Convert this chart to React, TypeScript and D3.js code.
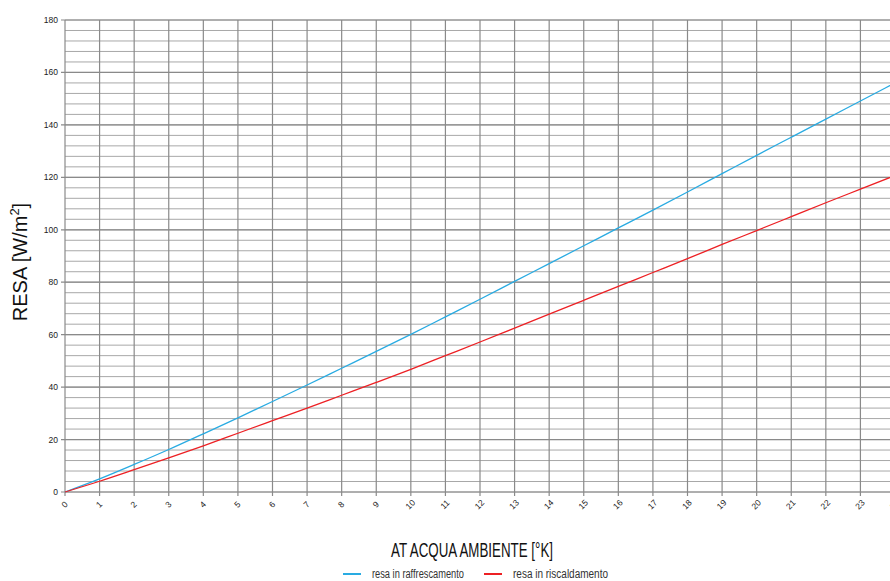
import React from "react";
import * as d3 from "d3";

const deltaT = [0,1,2,3,4,5,6,7,8,9,10,11,12,13,14,15,16,17,18,19,20,21,22,23,24];
const cooling = [0,5,10.5,16.2,22.2,28.3,34.5,40.8,47.2,53.6,60.1,66.8,73.5,80.3,87.1,93.9,100.7,107.5,114.4,121.4,128.4,135.3,142.2,149.1,156];
const heating = [0,4.1,8.5,13,17.6,22.4,27.2,32,36.9,41.8,46.8,52,57.2,62.5,67.8,73.1,78.4,83.7,89,94.4,99.7,105,110.3,115.5,120.7];
const yMajorTicks = [0,20,40,60,80,100,120,140,160,180];
const yMinorTicks = d3.range(0, 181, 4);
const seriesNames = ["resa in raffrescamento", "resa in riscaldamento"];
const seriesColors = ["#29abe2", "#ed2024"];

const W = 890, H = 581;
const sans = "'Liberation Sans', Arial, sans-serif";

export default function App() {
  const x = d3.scaleLinear().domain([0, 24]).range([65, 895]);
  const y = d3.scaleLinear().domain([0, 180]).range([492, 20]);
  const line = d3
    .line<number>()
    .x((_, i) => x(deltaT[i]))
    .y((d) => y(d))
    .curve(d3.curveMonotoneX);
  const series = [cooling, heating];
  const legendX = [343, 484];
  const legendW = [92, 95];
  return (
    <svg width={W} height={H} style={{ position: "absolute", left: 0, top: 0, background: "#fff" }}>
      <g>
        {yMinorTicks.map((t) => (
          <line key={"mn" + t} x1={x(0)} x2={W} y1={y(t)} y2={y(t)} stroke="#a8a8a8" strokeWidth={1} />
        ))}
        {yMajorTicks.map((t) => (
          <line key={"mj" + t} x1={x(0) - 4} x2={W} y1={y(t)} y2={y(t)} stroke="#8a8a8a" strokeWidth={1.2} />
        ))}
        {deltaT.map((t) => (
          <line key={"v" + t} x1={x(t)} x2={x(t)} y1={y(180)} y2={y(0) + 4} stroke="#8a8a8a" strokeWidth={1.2} />
        ))}
      </g>
      {series.map((s, i) => (
        <path key={i} d={line(s) || ""} fill="none" stroke={seriesColors[i]} strokeWidth={1.3} />
      ))}
      {yMajorTicks.map((t) => (
        <text key={"yl" + t} x={58} y={y(t) + 3} textAnchor="end" fontSize={8.5} fontFamily={sans} fill="#222">{t}</text>
      ))}
      {deltaT.map((t) => (
        <text key={"xl" + t} transform={`translate(${x(t)},${505}) rotate(-45)`} textAnchor="middle" dominantBaseline="middle" fontSize={8.5} fontFamily={sans} fill="#222">{t}</text>
      ))}
      <text transform={`translate(27,262) rotate(-90)`} textAnchor="middle" fontSize={20} fontFamily={sans} fill="#111">
        RESA [W/m<tspan dy={-8} fontSize={13}>2</tspan><tspan dy={8}>]</tspan>
      </text>
      <text x={391} y={557} fontSize={20} fontFamily={sans} fill="#111" textLength={162} lengthAdjust="spacingAndGlyphs">AT ACQUA AMBIENTE [°K]</text>
      {seriesNames.map((n, i) => {
        const lx = legendX[i];
        return (
          <g key={n}>
            <line x1={lx} x2={lx + 18} y1={574} y2={574} stroke={seriesColors[i]} strokeWidth={2} />
            <text x={lx + 29} y={578} fontSize={12.5} fontFamily={sans} fill="#333" textLength={legendW[i]} lengthAdjust="spacingAndGlyphs">{n}</text>
          </g>
        );
      })}
    </svg>
  );
}
